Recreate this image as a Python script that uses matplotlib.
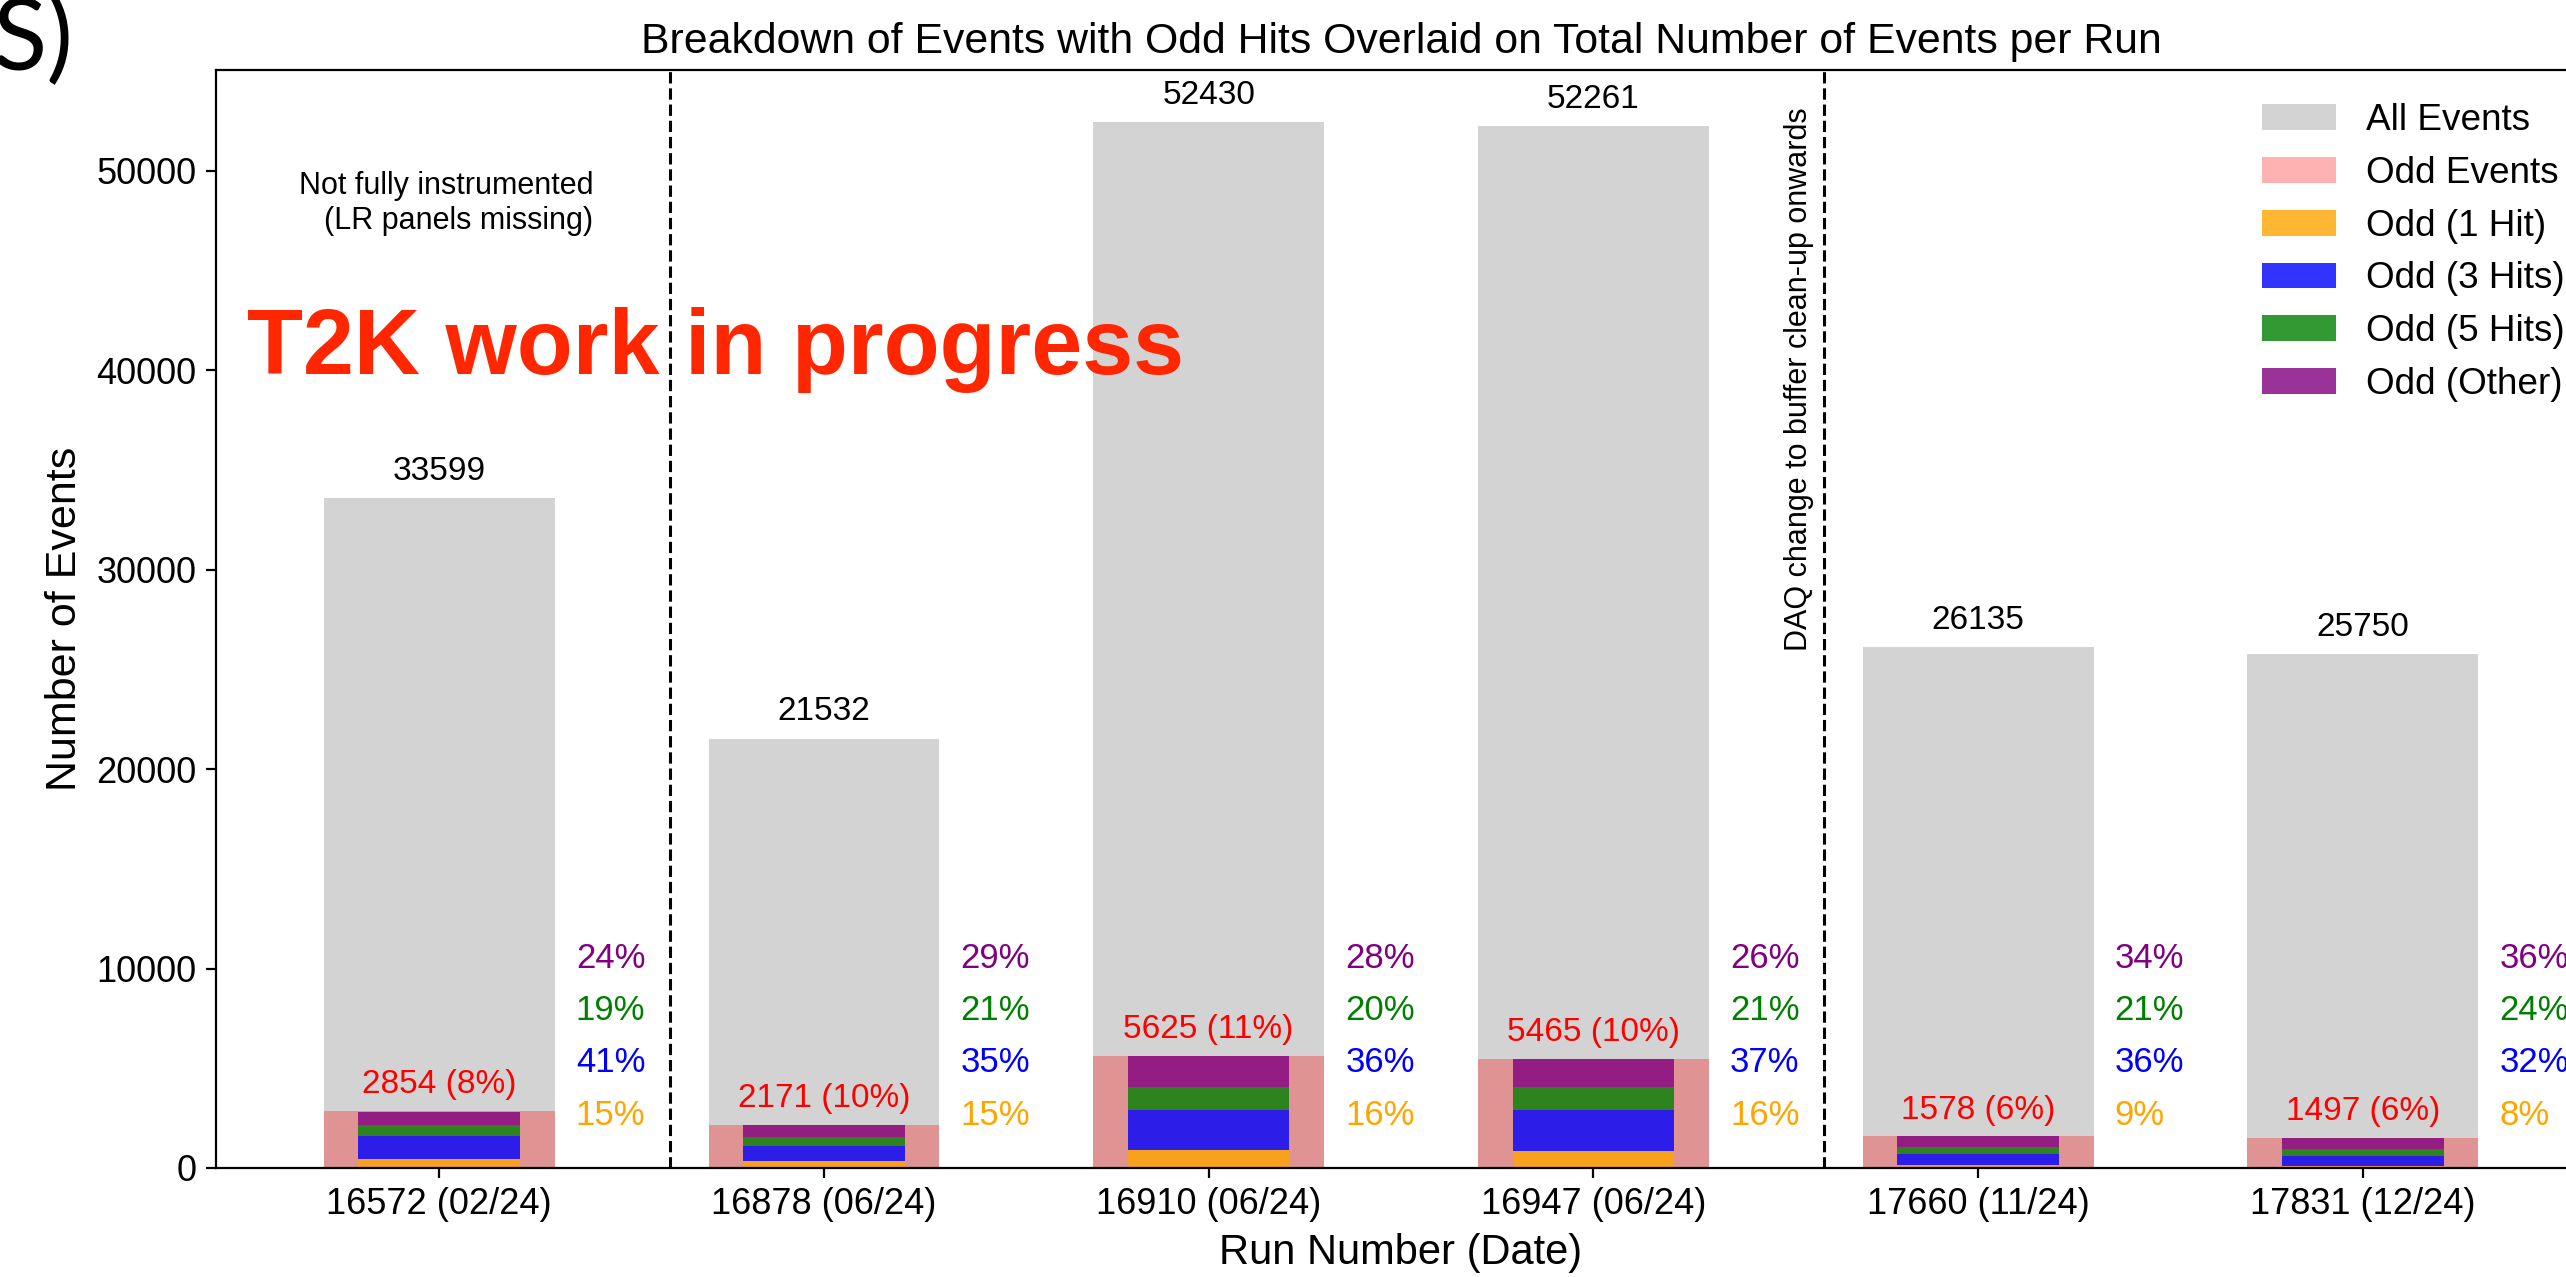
import matplotlib.pyplot as plt
import numpy as np

plt.rcParams['font.family'] = ['Liberation Sans', 'DejaVu Sans']

runs = ['16572 (02/24)', '16878 (06/24)', '16910 (06/24)', '16947 (06/24)',
        '17660 (11/24)', '17831 (12/24)']
all_events = [33599, 21532, 52430, 52261, 26135, 25750]
odd_events = [2854, 2171, 5625, 5465, 1578, 1497]

# split of the odd events by number of hits, in percent of odd events
pct_1hit = [15, 15, 16, 16, 9, 8]
pct_3hits = [41, 35, 36, 37, 36, 32]
pct_5hits = [19, 21, 20, 21, 21, 24]
pct_other = [24, 29, 28, 26, 34, 36]

x = np.arange(len(runs))
width = 0.6
inner = 0.42
ymax = max(all_events)

fig = plt.figure(figsize=(12.83, 6.385), dpi=200)
ax = fig.add_axes([0.0842, 0.0854, 0.9236, 0.8598])

ax.bar(x, all_events, width, color='lightgray', label='All Events')
ax.bar(x, odd_events, width, color='red', alpha=0.3, label='Odd Events')

odd = np.array(odd_events, dtype=float)
parts = [
    (pct_1hit, 'orange', 'Odd (1 Hit)'),
    (pct_3hits, 'blue', 'Odd (3 Hits)'),
    (pct_5hits, 'green', 'Odd (5 Hits)'),
    (pct_other, 'purple', 'Odd (Other)'),
]
bottom = np.zeros(len(runs))
for pct, col, lab in parts:
    h = odd * np.array(pct) / 100
    ax.bar(x, h, inner, bottom=bottom, color=col, alpha=0.8, label=lab)
    bottom += h

for i in range(len(runs)):
    ax.text(x[i], all_events[i] + 1330, str(all_events[i]),
            ha='center', va='center', fontsize=12)
    frac = odd_events[i] / all_events[i] * 100
    ax.text(x[i], odd_events[i] + 1310, f'{odd_events[i]} ({frac:.0f}%)',
            ha='center', va='center', fontsize=12, color='red')
    for k, (pct, col, lab) in enumerate(parts):
        ax.text(x[i] + 0.355, (k + 1) * 0.05 * ymax + 20, f'{pct[i]}%',
                ha='left', va='center', fontsize=12.5, color=col)

ax.axvline(0.6, color='black', linestyle='--', linewidth=1.1)
ax.axvline(3.6, color='black', linestyle='--', linewidth=1.1)

ax.text(0.4, 48350, 'Not fully instrumented\n(LR panels missing)',
        ha='right', va='center', fontsize=11)
ax.text(3.535, 53200, 'DAQ change to buffer clean-up onwards',
        rotation=90, ha='center', va='top', fontsize=11)
ax.text(-0.5, 41000, 'T2K work in progress', ha='left', va='center',
        fontsize=33, fontweight='bold', color='#ff2600')

ax.set_xticks(x)
ax.set_xticklabels(runs, fontsize=13)
ax.tick_params(axis='y', labelsize=13)
ax.set_xlim(-0.58, 5.58)
ax.set_ylim(0, 1.05 * ymax)
ax.set_xlabel('Run Number (Date)', fontsize=15)
ax.set_ylabel('Number of Events', fontsize=15.5)
ax.set_title('Breakdown of Events with Odd Hits Overlaid on Total Number of Events per Run',
             fontsize=15.4)
ax.legend(loc='upper right', bbox_to_anchor=(1.0048, 1.0), fontsize=13.3,
          frameon=False, labelspacing=0.48)

fig.text(-0.003, 1.005, 'S)', ha='left', va='top', fontsize=36,
         family=['Lato', 'DejaVu Sans'])

fig.savefig('out.png', dpi=200)
